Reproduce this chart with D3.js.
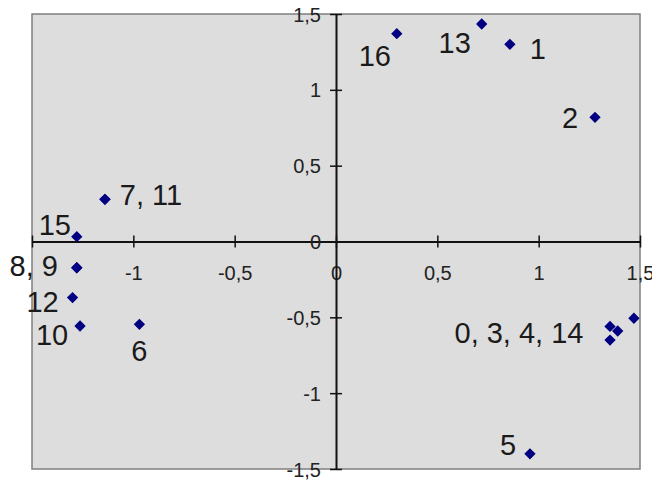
<!DOCTYPE html>
<html>
<head>
<meta charset="utf-8">
<script src="https://cdn.jsdelivr.net/npm/d3@7"></script>
<style>
body { margin: 0; background: #fff; }
svg { display: block; font-family: "Liberation Sans", Arial, sans-serif; }
</style>
</head>
<body>
<svg></svg>
<script>
// point numbers and their coordinates
var pointIds = [0, 1, 2, 3, 4, 5, 6, 7, 8, 9, 10, 11, 12, 13, 14, 15, 16];
var xValues = [1.352, 0.858, 1.278, 1.39, 1.352, 0.957, -0.97, -1.14, -1.279, -1.279, -1.263, -1.14, -1.30, 0.719, 1.47, -1.279, 0.30];
var yValues = [-0.56, 1.30, 0.819, -0.59, -0.65, -1.40, -0.546, 0.278, -0.173, -0.173, -0.557, 0.278, -0.37, 1.434, -0.506, 0.032, 1.37];

// data labels, each one tied to a point
var labelTexts = ["0, 3, 4, 14", "1", "2", "5", "6", "7, 11", "8, 9", "10", "12", "13", "15", "16"];
var labelPoints = [0, 1, 2, 5, 6, 7, 8, 10, 12, 13, 15, 16];

// axis ticks
var xTicks = [-1.5, -1, -0.5, 0, 0.5, 1, 1.5];
var xTickLabels = ["", "-1", "-0,5", "0", "0,5", "1", "1,5"];
var yTicks = [-1.5, -1, -0.5, 0, 0.5, 1, 1.5];
var yTickLabels = ["-1,5", "-1", "-0,5", "0", "0,5", "1", "1,5"];

// where each label sits relative to its point (px)
var labelOffsets = [[-91, 6], [28, 5], [-25, 1], [-22, -9], [0, 27], [46, -4], [-43, -2], [-28, 9], [-30, 4], [-27, 19], [-22, -12], [-22, 22]];

function drawChart() {
    var svgWidth = 652, svgHeight = 480;
    var plot = { left: 32, top: 14, right: 640, bottom: 469 };

    var svg = d3.select("svg")
        .attr("width", svgWidth)
        .attr("height", svgHeight);

    var x = d3.scaleLinear().domain([-1.5, 1.5]).range([plot.left, plot.right]);
    var y = d3.scaleLinear().domain([-1.5, 1.5]).range([plot.bottom, plot.top]);

    svg.append("rect")
        .attr("x", plot.left)
        .attr("y", plot.top)
        .attr("width", plot.right - plot.left)
        .attr("height", plot.bottom - plot.top)
        .attr("fill", "#dddddd")
        .attr("stroke", "#7f7f7f")
        .attr("stroke-width", 1.5);

    // x axis through y = 0
    var gx = svg.append("g")
        .attr("transform", "translate(0," + y(0) + ")")
        .call(d3.axisBottom(x)
            .tickValues(xTicks)
            .tickSizeOuter(0)
            .tickFormat(function(d, i) { return xTickLabels[i]; }));
    gx.select(".domain").attr("stroke", "#111").attr("stroke-width", 2);
    gx.selectAll(".tick line").attr("y1", -6).attr("y2", 6).attr("stroke", "#111").attr("stroke-width", 1.5);
    gx.selectAll(".tick text")
        .attr("y", 31)
        .attr("dy", "0.35em")
        .attr("font-size", 20)
        .attr("font-family", "Liberation Sans, Arial, sans-serif")
        .attr("fill", "#222");

    // y axis through x = 0
    var gy = svg.append("g")
        .attr("transform", "translate(" + x(0) + ",0)")
        .call(d3.axisLeft(y)
            .tickValues(yTicks)
            .tickSizeOuter(0)
            .tickFormat(function(d, i) { return yTickLabels[i]; }));
    gy.select(".domain").attr("stroke", "#111").attr("stroke-width", 2);
    gy.selectAll(".tick line").attr("x1", -6).attr("x2", 6).attr("stroke", "#111").attr("stroke-width", 1.5);
    gy.selectAll(".tick text")
        .attr("x", -15)
        .attr("dy", "0.35em")
        .attr("font-size", 20)
        .attr("font-family", "Liberation Sans, Arial, sans-serif")
        .attr("fill", "#222");

    // diamond markers
    var diamond = d3.symbol().type(d3.symbolSquare).size(64);
    svg.selectAll(".pt")
        .data(pointIds)
        .enter().append("path")
        .attr("class", "pt")
        .attr("d", diamond)
        .attr("transform", function(i) {
            return "translate(" + x(xValues[i]) + "," + y(yValues[i]) + ") rotate(45)";
        })
        .attr("fill", "#000080");

    // data labels
    svg.selectAll(".lbl")
        .data(labelTexts)
        .enter().append("text")
        .attr("class", "lbl")
        .attr("x", function(d, i) { return x(xValues[labelPoints[i]]) + labelOffsets[i][0]; })
        .attr("y", function(d, i) { return y(yValues[labelPoints[i]]) + labelOffsets[i][1]; })
        .attr("dy", "0.35em")
        .attr("text-anchor", "middle")
        .attr("font-size", 29)
        .attr("fill", "#1a1a1a")
        .text(function(d) { return d; });
}

drawChart();
</script>
</body>
</html>
